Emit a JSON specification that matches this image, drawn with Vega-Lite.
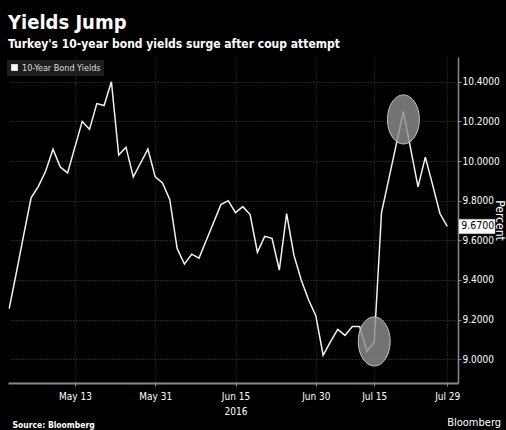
{
  "$schema": "https://vega.github.io/schema/vega-lite/v6.json",
  "width": 450,
  "height": 326,
  "autosize": {"type": "none"},
  "padding": {"left": 8, "top": 57, "right": 48, "bottom": 47},
  "background": "#000000",
  "title": {
    "text": "Yields Jump",
    "subtitle": "Turkey's 10-year bond yields surge after coup attempt",
    "anchor": "start",
    "frame": "group",
    "color": "#ffffff",
    "fontSize": 20,
    "fontWeight": "bold",
    "subtitleColor": "#ffffff",
    "subtitleFontSize": 12,
    "subtitleFontWeight": "bold",
    "subtitlePadding": 6,
    "offset": 7
  },
  "datasets": {
    "yields": [
      {"date": "2016-05-02", "value": 9.255},
      {"date": "2016-05-03", "value": 9.44},
      {"date": "2016-05-04", "value": 9.63},
      {"date": "2016-05-05", "value": 9.814},
      {"date": "2016-05-06", "value": 9.872},
      {"date": "2016-05-09", "value": 9.95},
      {"date": "2016-05-10", "value": 10.06},
      {"date": "2016-05-11", "value": 9.97},
      {"date": "2016-05-12", "value": 9.94},
      {"date": "2016-05-13", "value": 10.07},
      {"date": "2016-05-16", "value": 10.2},
      {"date": "2016-05-17", "value": 10.16},
      {"date": "2016-05-18", "value": 10.29},
      {"date": "2016-05-20", "value": 10.28},
      {"date": "2016-05-23", "value": 10.4},
      {"date": "2016-05-24", "value": 10.03},
      {"date": "2016-05-25", "value": 10.07},
      {"date": "2016-05-26", "value": 9.92},
      {"date": "2016-05-27", "value": 9.99},
      {"date": "2016-05-30", "value": 10.06},
      {"date": "2016-05-31", "value": 9.92},
      {"date": "2016-06-01", "value": 9.89},
      {"date": "2016-06-02", "value": 9.805},
      {"date": "2016-06-03", "value": 9.56},
      {"date": "2016-06-06", "value": 9.48},
      {"date": "2016-06-07", "value": 9.53},
      {"date": "2016-06-08", "value": 9.51},
      {"date": "2016-06-09", "value": 9.6},
      {"date": "2016-06-10", "value": 9.69},
      {"date": "2016-06-13", "value": 9.78},
      {"date": "2016-06-14", "value": 9.8},
      {"date": "2016-06-15", "value": 9.74},
      {"date": "2016-06-16", "value": 9.77},
      {"date": "2016-06-17", "value": 9.73},
      {"date": "2016-06-20", "value": 9.54},
      {"date": "2016-06-21", "value": 9.62},
      {"date": "2016-06-22", "value": 9.61},
      {"date": "2016-06-23", "value": 9.45},
      {"date": "2016-06-24", "value": 9.735},
      {"date": "2016-06-27", "value": 9.525},
      {"date": "2016-06-28", "value": 9.4},
      {"date": "2016-06-29", "value": 9.3},
      {"date": "2016-06-30", "value": 9.22},
      {"date": "2016-07-01", "value": 9.02},
      {"date": "2016-07-04", "value": 9.087},
      {"date": "2016-07-08", "value": 9.15},
      {"date": "2016-07-11", "value": 9.12},
      {"date": "2016-07-12", "value": 9.165},
      {"date": "2016-07-13", "value": 9.165},
      {"date": "2016-07-14", "value": 9.04},
      {"date": "2016-07-15", "value": 9.087},
      {"date": "2016-07-18", "value": 9.74},
      {"date": "2016-07-19", "value": 9.91},
      {"date": "2016-07-20", "value": 10.08},
      {"date": "2016-07-21", "value": 10.25},
      {"date": "2016-07-22", "value": 10.06},
      {"date": "2016-07-25", "value": 9.87},
      {"date": "2016-07-26", "value": 10.02},
      {"date": "2016-07-27", "value": 9.88},
      {"date": "2016-07-28", "value": 9.735},
      {"date": "2016-07-29", "value": 9.67}
    ],
    "circles": [
      {"date": "2016-07-15", "value": 9.09},
      {"date": "2016-07-21", "value": 10.21}
    ],
    "logo": [
      {"date": "2016-07-29", "value": 8.665, "label": "Bloomberg"}
    ]
  },
  "layer": [
    {
      "data": {"name": "yields"},
      "mark": {"type": "line", "strokeWidth": 1.5, "interpolate": "linear"},
      "encoding": {
        "x": {
          "field": "date",
          "type": "ordinal",
          "sort": "ascending",
          "scale": {"type": "point", "padding": 0.82, "align": 0.1},
          "axis": {
            "values": ["2016-05-13", "2016-05-31", "2016-06-15", "2016-06-30", "2016-07-15", "2016-07-29"],
            "labelExpr": "datum.value == '2016-06-15' ? ['Jun 15', '2016'] : utcFormat(toDate(datum.value), '%b %d')",
            "labelAngle": 0,
            "labelAlign": "center",
            "labelColor": "#ffffff",
            "labelFontSize": 10,
            "labelPadding": 5,
            "labelLineHeight": 15,
            "grid": true,
            "gridColor": "#3c3c3c",
            "gridDash": [1, 2],
            "domainColor": "#8a8a8a",
            "domainWidth": 2,
            "ticks": true,
            "tickColor": "#8a8a8a",
            "tickSize": 3,
            "title": "Source: Bloomberg",
            "titleAnchor": "start",
            "titleAlign": "left",
            "titleX": 4,
            "titleY": 44,
            "titleBaseline": "alphabetic",
            "titleFontSize": 8.5,
            "titleFontWeight": "bold",
            "titleColor": "#ffffff"
          }
        },
        "y": {
          "field": "value",
          "type": "quantitative",
          "scale": {"domain": [8.88, 10.525], "nice": false, "zero": false},
          "axis": {
            "orient": "right",
            "values": [9.0, 9.2, 9.4, 9.6, 9.8, 10.0, 10.2, 10.4],
            "format": ".4f",
            "grid": true,
            "gridColor": "#4a4a4a",
            "gridDash": [1, 2],
            "domainColor": "#8a8a8a",
            "domainWidth": 1.5,
            "tickColor": "#8a8a8a",
            "tickSize": 3,
            "labelPadding": 1,
            "labelFontSize": 10,
            "labelColor": "#ffffff",
            "title": "Percent",
            "titleColor": "#ffffff",
            "titleFontSize": 12,
            "titleFontWeight": "normal",
            "titleAngle": 90,
            "titleX": 41,
            "titleY": 163,
            "titleAlign": "center",
            "titleBaseline": "middle"
          }
        },
        "color": {
          "datum": "10-Year Bond Yields",
          "type": "nominal",
          "scale": {"range": ["#f2f2f2"]},
          "legend": {
            "orient": "none",
            "legendX": -1,
            "legendY": 3,
            "title": null,
            "fillColor": "#1e1e1e",
            "padding": 3,
            "labelColor": "#dddddd",
            "labelFontSize": 9,
            "labelOffset": 3,
            "symbolType": "square",
            "symbolSize": 45,
            "symbolFillColor": "#ffffff",
            "symbolStrokeColor": "#ffffff",
            "symbolStrokeWidth": 0
          }
        }
      }
    },
    {
      "data": {"name": "circles"},
      "mark": {
        "type": "point",
        "shape": "M0,-1 C0.359,-1 0.65,-0.552 0.65,0 C0.65,0.552 0.359,1 0,1 C-0.359,1 -0.65,0.552 -0.65,0 C-0.65,-0.552 -0.359,-1 0,-1 Z",
        "size": 2401,
        "filled": true,
        "fill": "#8c8c8c",
        "fillOpacity": 0.82,
        "stroke": "#c8c8c8",
        "strokeWidth": 1,
        "opacity": 1
      },
      "encoding": {
        "x": {"field": "date", "type": "ordinal", "sort": "ascending"},
        "y": {"field": "value", "type": "quantitative"}
      }
    },
    {
      "data": {"name": "yields"},
      "transform": [{"filter": "datum.date == '2016-07-29'"}],
      "mark": {
        "type": "point",
        "shape": "M0.49,-0.3 L1.99,-0.3 L1.99,0.3 L0.49,0.3 Z",
        "size": 2304,
        "filled": true,
        "fill": "#ffffff",
        "stroke": "#bbbbbb",
        "strokeWidth": 0.5,
        "opacity": 1
      },
      "encoding": {
        "x": {"field": "date", "type": "ordinal", "sort": "ascending"},
        "y": {"field": "value", "type": "quantitative"}
      }
    },
    {
      "data": {"name": "yields"},
      "transform": [{"filter": "datum.date == '2016-07-29'"}],
      "mark": {"type": "text", "dx": 14, "align": "left", "baseline": "middle", "color": "#000000", "fontSize": 10.5},
      "encoding": {
        "x": {"field": "date", "type": "ordinal", "sort": "ascending"},
        "y": {"field": "value", "type": "quantitative"},
        "text": {"field": "value", "type": "quantitative", "format": ".4f"}
      }
    },
    {
      "data": {"name": "logo"},
      "mark": {"type": "text", "align": "left", "baseline": "alphabetic", "color": "#ffffff", "fontSize": 11},
      "encoding": {
        "x": {"field": "date", "type": "ordinal", "sort": "ascending"},
        "y": {"field": "value", "type": "quantitative"},
        "text": {"field": "label", "type": "nominal"}
      }
    }
  ],
  "config": {
    "font": "DejaVu Sans Condensed",
    "view": {"stroke": null},
    "axis": {"labelFont": "DejaVu Sans Condensed", "titleFont": "DejaVu Sans Condensed"},
    "legend": {"labelFont": "DejaVu Sans Condensed"},
    "title": {"font": "DejaVu Sans Condensed", "subtitleFont": "DejaVu Sans Condensed"}
  }
}
